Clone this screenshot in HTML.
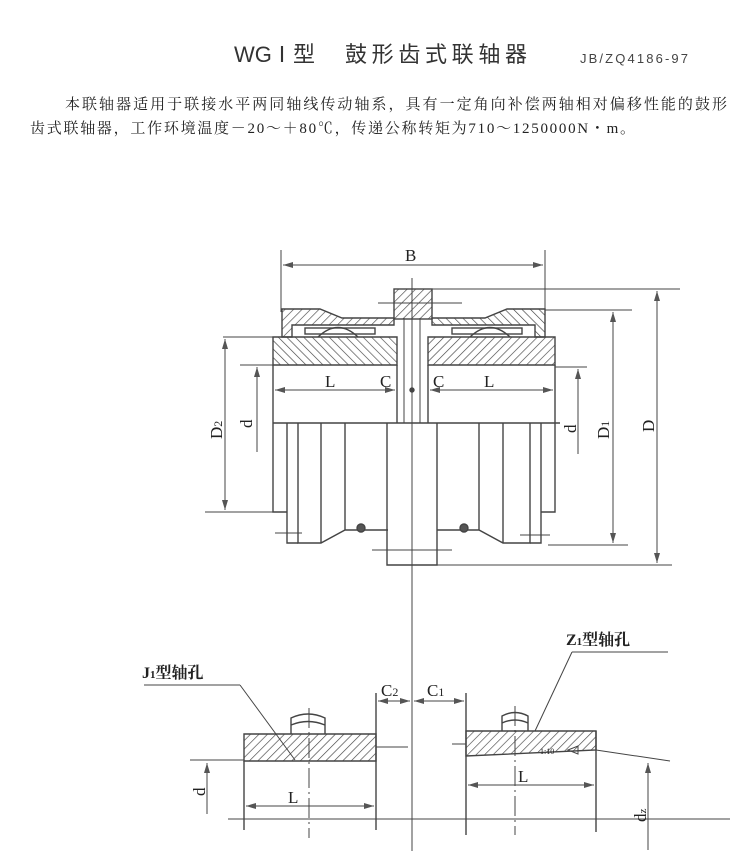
<!DOCTYPE html>
<html><head><meta charset="utf-8"><style>
html,body{margin:0;padding:0;background:#fff;}
svg{display:block}
.t{font-family:"Liberation Serif","Noto Serif CJK SC",serif;fill:#222}
</style></head><body>
<svg width="730" height="851" viewBox="0 0 730 851" xmlns="http://www.w3.org/2000/svg">
<defs>
<pattern id="h" width="6" height="6" patternUnits="userSpaceOnUse" patternTransform="rotate(45)"><line x1="0" y1="0" x2="0" y2="6" stroke="#444" stroke-width="1.3"/></pattern>
<pattern id="h2" width="6" height="6" patternUnits="userSpaceOnUse" patternTransform="rotate(-45)"><line x1="0" y1="0" x2="0" y2="6" stroke="#444" stroke-width="1.3"/></pattern>
<marker id="a" viewBox="0 0 10 6" refX="10" refY="3" markerWidth="10" markerHeight="6" orient="auto-start-reverse" markerUnits="userSpaceOnUse"><path d="M0,0L10,3L0,6z" fill="#555"/></marker>
</defs>
<text x="234" y="62" style="font-family:'Liberation Sans','Noto Sans CJK SC',sans-serif;fill:#333" font-size="22">WG</text>
<text x="271" y="62" style="font-family:'Noto Sans CJK SC',sans-serif;fill:#333" font-size="22">Ⅰ型</text>
<text x="345" y="62" style="font-family:'Noto Sans CJK SC',sans-serif;fill:#333" font-size="22" textLength="182">鼓形齿式联轴器</text>
<text x="580" y="63" style="font-family:'Liberation Sans',sans-serif;fill:#444" font-size="13" textLength="108">JB/ZQ4186-97</text>
<text x="65" y="109" class="t" font-size="15" textLength="662">本联轴器适用于联接水平两同轴线传动轴系，具有一定角向补偿两轴相对偏移性能的鼓形</text>
<text x="30" y="133" class="t" font-size="15" textLength="605">齿式联轴器，工作环境温度－20～＋80℃，传递公称转矩为710～1250000N・m。</text>

<g stroke="#444" stroke-width="1.4" fill="none">
<line x1="412" y1="278" x2="412" y2="851" stroke-width="1"/>
<line x1="281" y1="250" x2="281" y2="312" stroke-width="1"/>
<line x1="545" y1="250" x2="545" y2="312" stroke-width="1"/>
<line x1="283" y1="265" x2="543" y2="265" stroke-width="1" marker-start="url(#a)" marker-end="url(#a)"/>
<rect x="394" y="289" width="38" height="30" fill="url(#h)"/>
<line x1="432" y1="289" x2="680" y2="289" stroke-width="1"/>
<line x1="378" y1="303" x2="462" y2="303" stroke-width="1"/>
<path d="M282,309 L320,309 L342,318 L394,318 L394,325 L292,325 L292,337 L282,337 Z" fill="url(#h)"/>
<path d="M545,309 L507,309 L485,318 L432,318 L432,325 L535,325 L535,337 L545,337 Z" fill="url(#h2)"/>
<line x1="545" y1="310" x2="632" y2="310" stroke-width="1"/>
<rect x="305" y="328" width="70" height="6"/><rect x="452" y="328" width="70" height="6"/>
<path d="M318,337 Q338,318 358,337" /><path d="M470,337 Q490,318 510,337"/>
<path d="M273,337 L397,337 L397,365 L273,365 Z" fill="url(#h2)"/>
<path d="M428,337 L555,337 L555,365 L428,365 Z" fill="url(#h)"/>
<line x1="404" y1="318" x2="404" y2="423" stroke-width="1"/>
<line x1="420" y1="318" x2="420" y2="423" stroke-width="1"/>
<line x1="397" y1="365" x2="397" y2="423"/><line x1="428" y1="365" x2="428" y2="423"/>
<line x1="273" y1="365" x2="273" y2="423"/><line x1="555" y1="365" x2="555" y2="423"/>
<line x1="223" y1="337" x2="273" y2="337" stroke-width="1"/>
<line x1="240" y1="365" x2="273" y2="365" stroke-width="1"/>
<line x1="555" y1="367" x2="587" y2="367" stroke-width="1"/>
<line x1="273" y1="423" x2="560" y2="423"/>
<line x1="275" y1="390" x2="395" y2="390" stroke-width="1" marker-start="url(#a)" marker-end="url(#a)"/>
<line x1="430" y1="390" x2="553" y2="390" stroke-width="1" marker-start="url(#a)" marker-end="url(#a)"/>
<circle cx="412" cy="390" r="2" fill="#444"/>
<path d="M273,423 L273,512 L287,512 L287,543 L298,543 M287,423 L287,512"/>
<path d="M298,423 L298,543 L321,543 L345,530 L388,530 M321,423 L321,543 M345,423 L345,530"/>
<path d="M555,423 L555,512 L541,512 L541,543 L530,543 M541,423 L541,512"/>
<path d="M530,423 L530,543 L503,543 L479,530 L437,530 M503,423 L503,543 M479,423 L479,530"/>
<path d="M387,423 L387,565 L437,565 L437,423"/>
<line x1="205" y1="512" x2="273" y2="512" stroke-width="1"/>
<line x1="275" y1="533" x2="302" y2="533" stroke-width="1"/>
<line x1="520" y1="535" x2="550" y2="535" stroke-width="1"/>
<line x1="372" y1="550" x2="452" y2="550" stroke-width="1"/>
<line x1="548" y1="545" x2="628" y2="545" stroke-width="1"/>
<line x1="437" y1="565" x2="672" y2="565" stroke-width="1"/>
<circle cx="361" cy="528" r="4" fill="#555"/><circle cx="464" cy="528" r="4" fill="#555"/>
<line x1="225" y1="339" x2="225" y2="510" stroke-width="1" marker-start="url(#a)" marker-end="url(#a)"/>
<line x1="257" y1="367" x2="257" y2="452" stroke-width="1" marker-start="url(#a)"/>
<line x1="578" y1="369" x2="578" y2="454" stroke-width="1" marker-start="url(#a)"/>
<line x1="613" y1="312" x2="613" y2="543" stroke-width="1" marker-start="url(#a)" marker-end="url(#a)"/>
<line x1="657" y1="291" x2="657" y2="563" stroke-width="1" marker-start="url(#a)" marker-end="url(#a)"/>

<path d="M244,734 L376,734 L376,761 L244,761 Z" fill="url(#h)"/>
<path d="M291,734 L291,718 Q308,710 325,718 L325,734 M291,725 Q308,718 325,725"/>
<line x1="309" y1="708" x2="309" y2="838" stroke-width="1" stroke-dasharray="20,4,2,4"/>
<line x1="244" y1="761" x2="244" y2="830"/><line x1="376" y1="693" x2="376" y2="830"/>
<line x1="190" y1="760" x2="244" y2="760" stroke-width="1"/>
<line x1="228" y1="819" x2="735" y2="819" stroke-width="1"/>
<line x1="207" y1="763" x2="207" y2="814" stroke-width="1" marker-start="url(#a)"/>
<line x1="246" y1="806" x2="374" y2="806" stroke-width="1" marker-start="url(#a)" marker-end="url(#a)"/>
<line x1="376" y1="747" x2="408" y2="747" stroke-width="1"/>
<line x1="378" y1="701" x2="410" y2="701" stroke-width="1" marker-start="url(#a)" marker-end="url(#a)"/>
<line x1="414" y1="701" x2="464" y2="701" stroke-width="1" marker-start="url(#a)" marker-end="url(#a)"/>
<line x1="466" y1="693" x2="466" y2="835"/>
<line x1="144" y1="685" x2="240" y2="685" stroke-width="1"/>
<line x1="240" y1="685" x2="295" y2="760" stroke-width="1"/>
<path d="M466,731 L596,731 L596,750 L466,756 Z" fill="url(#h)"/>
<path d="M502,731 L502,716 Q515,709 528,716 L528,731 M502,723 Q515,717 528,723"/>
<line x1="515" y1="706" x2="515" y2="835" stroke-width="1" stroke-dasharray="20,4,2,4"/>
<line x1="596" y1="731" x2="596" y2="832"/>
<line x1="452" y1="744" x2="466" y2="744" stroke-width="1"/>
<line x1="596" y1="750" x2="670" y2="761" stroke-width="1"/>
<line x1="468" y1="785" x2="594" y2="785" stroke-width="1" marker-start="url(#a)" marker-end="url(#a)"/>
<line x1="648" y1="763" x2="648" y2="850" stroke-width="1" marker-start="url(#a)"/>
<line x1="572" y1="652" x2="668" y2="652" stroke-width="1"/>
<line x1="572" y1="652" x2="535" y2="731" stroke-width="1"/>
<path d="M568,750 L578,746 L578,754 Z" stroke-width="1"/>
</g>
<g class="t" font-size="17" fill="#222">
<text x="405" y="261">B</text>
<text x="325" y="387">L</text><text x="380" y="387">C</text>
<text x="433" y="387">C</text><text x="484" y="387">L</text>
<text transform="translate(222,439) rotate(-90)">D<tspan font-size="12">2</tspan></text>
<text transform="translate(252,428) rotate(-90)">d</text>
<text transform="translate(576,433) rotate(-90)">d</text>
<text transform="translate(609,439) rotate(-90)">D<tspan font-size="12">1</tspan></text>
<text transform="translate(654,432) rotate(-90)">D</text>
<text x="288" y="803">L</text><text x="518" y="782">L</text>
<text transform="translate(205,796) rotate(-90)">d</text>
<text transform="translate(646,822) rotate(-90)">d<tspan font-size="11">z</tspan></text>
<text x="381" y="696">C<tspan font-size="12">2</tspan></text>
<text x="427" y="696">C<tspan font-size="12">1</tspan></text>
<text x="142" y="678" font-weight="bold" font-size="16">J<tspan font-size="11">1</tspan>型轴孔</text>
<text x="566" y="645" font-weight="bold" font-size="16">Z<tspan font-size="11">1</tspan>型轴孔</text>
<text x="540" y="754" font-size="8">1:10</text>
</g>
</svg>
</body></html>
